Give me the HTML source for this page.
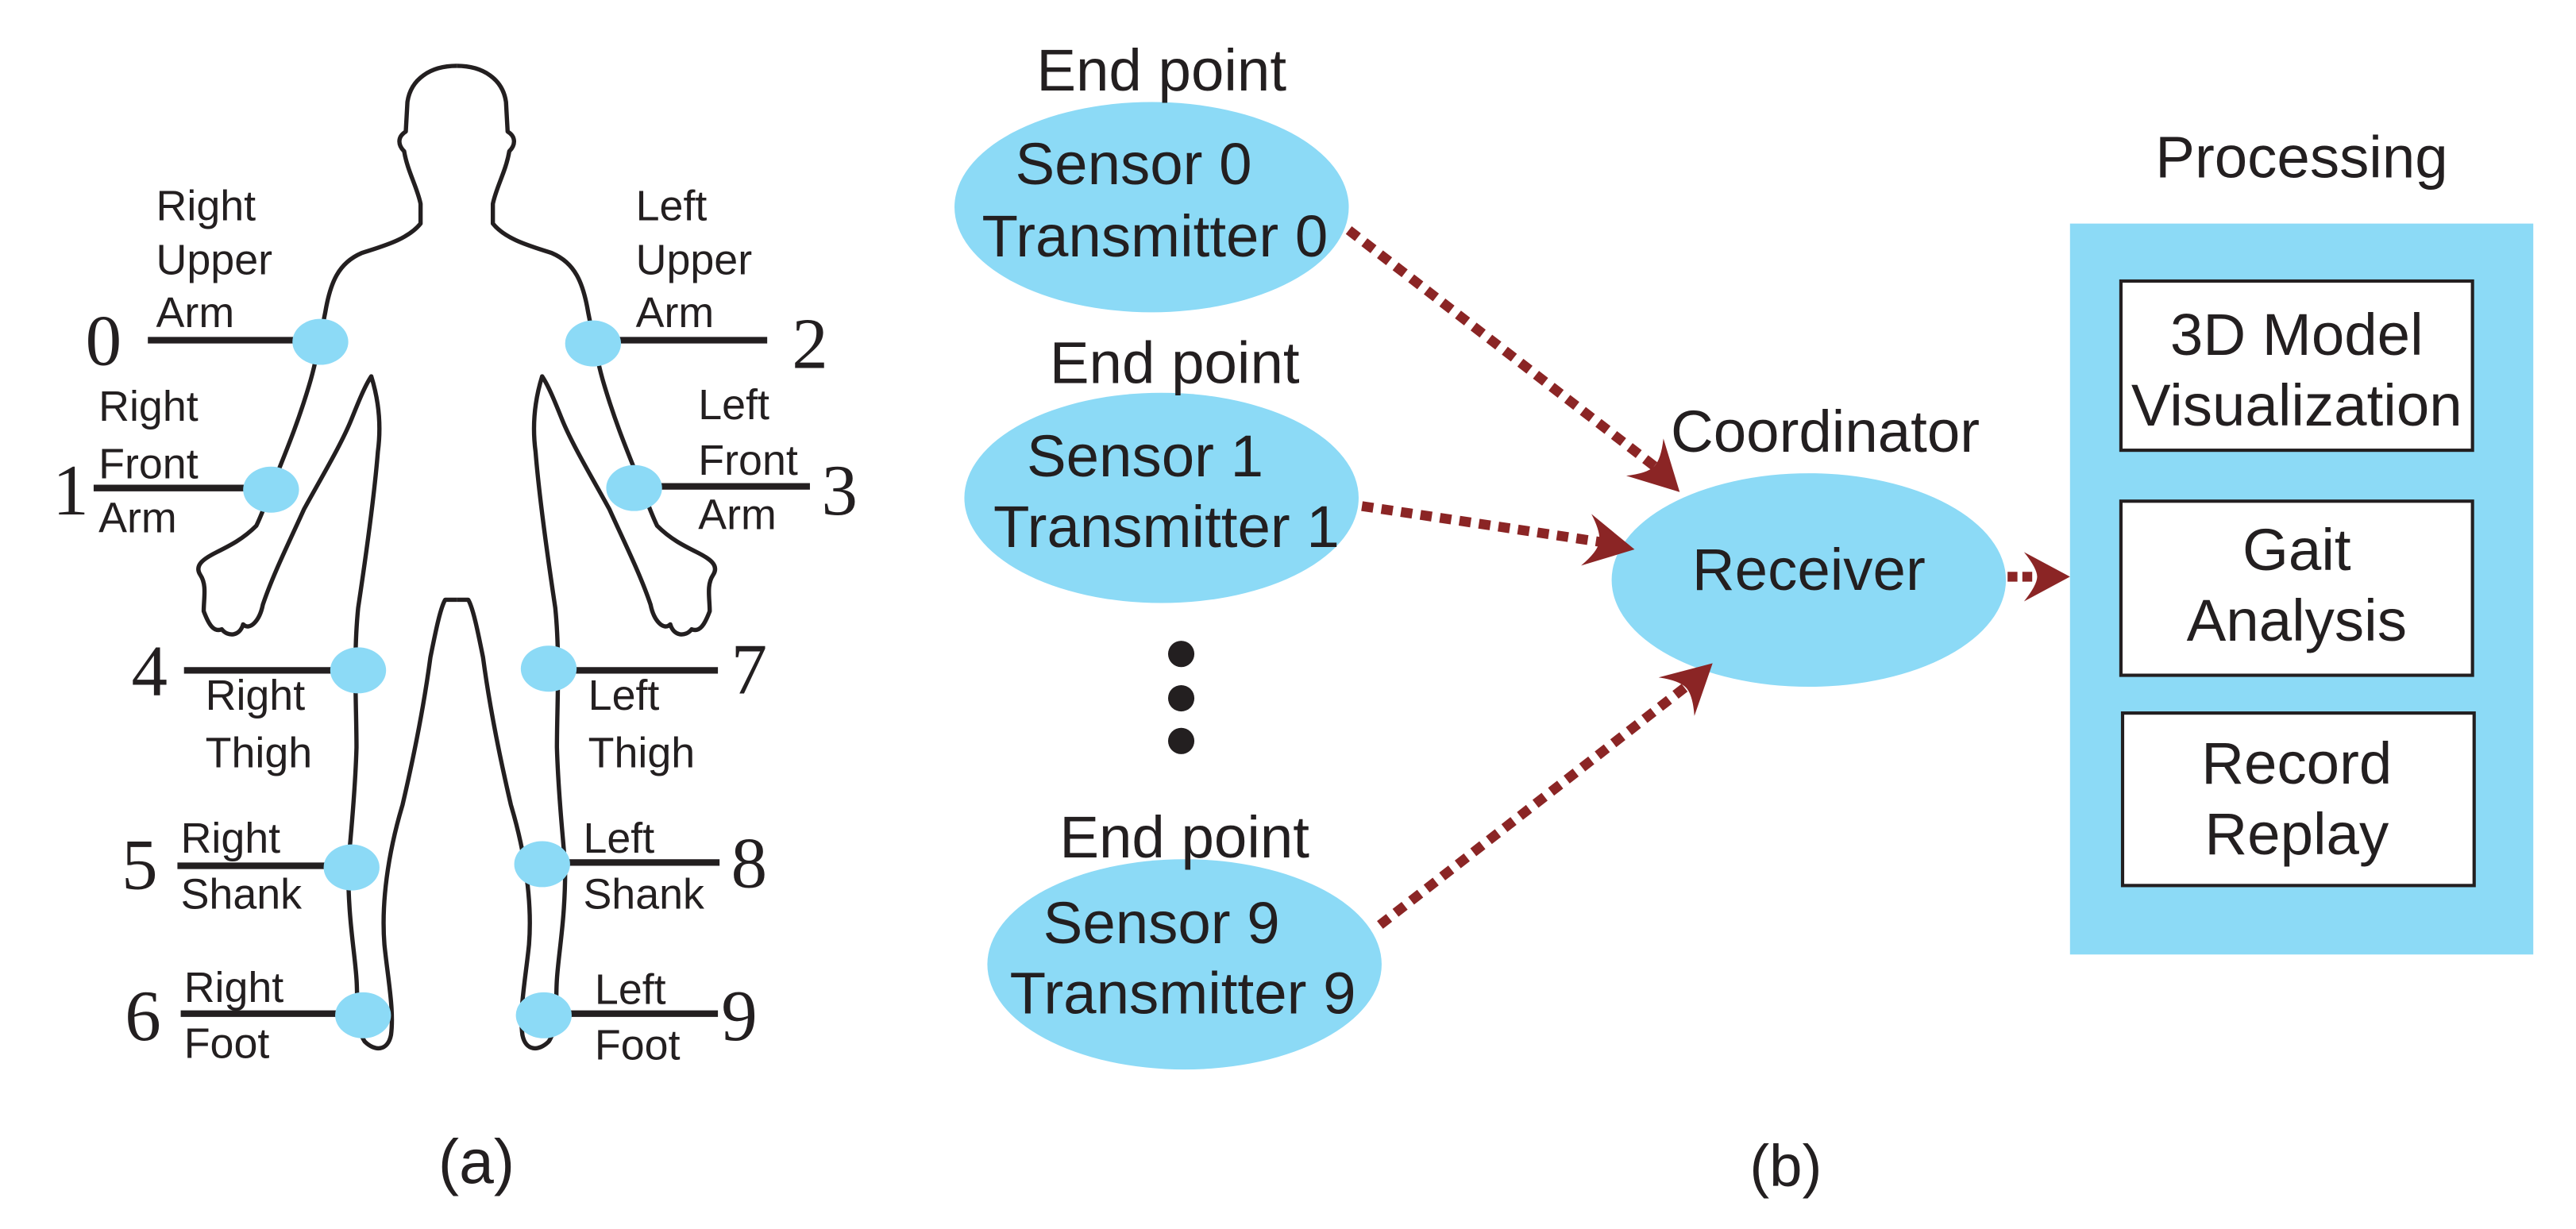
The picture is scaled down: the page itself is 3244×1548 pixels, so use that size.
<!DOCTYPE html>
<html><head><meta charset="utf-8"><style>
html,body{margin:0;padding:0;background:#fff}
svg{display:block}
text{font-family:"Liberation Sans",Arial,sans-serif;fill:#231f20}
.n text{font-family:"Liberation Serif",serif;font-size:44px}
.l text{font-size:26px}
.r text{font-size:36px;text-anchor:middle}
</style></head><body>
<svg width="3244" height="1548" viewBox="0 0 1568 748" xmlns="http://www.w3.org/2000/svg">
<defs>
<marker id="ah" markerUnits="userSpaceOnUse" markerWidth="40" markerHeight="40" viewBox="-30 -20 34 40" refX="0" refY="0" orient="auto">
<path d="M2,0 L-28,-16 Q-20,-6 -20,0 Q-20,6 -28,16 Z" fill="#8b2525"/>
</marker>
</defs>
<g fill="none" stroke="#231f20" stroke-width="2.6" stroke-linejoin="round">
<path id="half" d="M278,40 C262,40 250,48 248,62 L247,80 C242,83 242,88 246,92 C248,104 254,114 256,124 L256,136 C248,146 232,150 220,154 C206,160 201,172 198,190 C194,210 192,222 188,235 C182,255 176,270 170,285 C164,300 160,312 156,320 C148,328 140,332 132,336 C124,340 118,344 122,350 C126,356 124,364 124,372 C127,380 130,385 135,383 C139,388 146,387 148,380 C152,384 158,378 160,368 C166,350 176,330 185,310 C196,290 208,270 214,255 C218,245 222,235 226,229 C231,245 232,260 230,275 C228,300 224,330 218,370 C215,400 217,430 217,455 C216,490 212,520 212,530 C212,560 216,580 217,596 C218,610 216,625 222,634 C228,640 236,640 238,630 C240,615 236,595 234,575 C232,550 236,520 245,490 C252,460 258,430 262,400 C265,385 268,370 271,365 L278,365"/>
<use href="#half" transform="translate(556,0) scale(-1,1)"/>
</g>
<g stroke="#231f20" stroke-width="4">
<line x1="90" y1="207" x2="190" y2="207"/>
<line x1="365" y1="207" x2="467" y2="207"/>
<line x1="57" y1="297" x2="165" y2="297"/>
<line x1="390" y1="296" x2="493" y2="296"/>
<line x1="112" y1="408" x2="218" y2="408"/>
<line x1="330" y1="408" x2="437" y2="408"/>
<line x1="108" y1="527" x2="214" y2="527"/>
<line x1="330" y1="525" x2="438" y2="525"/>
<line x1="110" y1="617" x2="221" y2="617"/>
<line x1="330" y1="617" x2="437" y2="617"/>
</g>
<g fill="#8cdaf6">
<ellipse cx="195" cy="208" rx="17" ry="14"/>
<ellipse cx="361" cy="209" rx="17" ry="14"/>
<ellipse cx="165" cy="298" rx="17" ry="14"/>
<ellipse cx="386" cy="297" rx="17" ry="14"/>
<ellipse cx="218" cy="408" rx="17" ry="14"/>
<ellipse cx="334" cy="407" rx="17" ry="14"/>
<ellipse cx="214" cy="528" rx="17" ry="14"/>
<ellipse cx="330" cy="526" rx="17" ry="14"/>
<ellipse cx="221" cy="618" rx="17" ry="14"/>
<ellipse cx="331" cy="618" rx="17" ry="14"/>
</g>
<g class="n">
<text x="52" y="222">0</text><text x="482" y="224">2</text>
<text x="32" y="313">1</text><text x="500" y="313">3</text>
<text x="80" y="423">4</text><text x="445" y="422">7</text>
<text x="74" y="541">5</text><text x="445" y="540">8</text>
<text x="76" y="633">6</text><text x="439" y="633">9</text>
</g>
<g class="l">
<text x="95" y="134">Right</text><text x="95" y="167">Upper</text><text x="95" y="199">Arm</text>
<text x="387" y="134">Left</text><text x="387" y="167">Upper</text><text x="387" y="199">Arm</text>
<text x="60" y="256">Right</text><text x="60" y="291">Front</text><text x="60" y="324">Arm</text>
<text x="425" y="255">Left</text><text x="425" y="289">Front</text><text x="425" y="322">Arm</text>
<text x="125" y="432">Right</text><text x="125" y="467">Thigh</text>
<text x="358" y="432">Left</text><text x="358" y="467">Thigh</text>
<text x="110" y="519">Right</text><text x="110" y="553">Shank</text>
<text x="355" y="519">Left</text><text x="355" y="553">Shank</text>
<text x="112" y="610">Right</text><text x="112" y="644">Foot</text>
<text x="362" y="611">Left</text><text x="362" y="645">Foot</text>
</g>
<text x="290" y="720" style="font-size:38px;text-anchor:middle">(a)</text>

<g fill="#8cdaf6">
<ellipse cx="701" cy="126" rx="120" ry="64"/>
<ellipse cx="707" cy="303" rx="120" ry="64"/>
<ellipse cx="721" cy="587" rx="120" ry="64"/>
<ellipse cx="1101" cy="353" rx="120" ry="65"/>
<rect x="1260" y="136" width="282" height="445"/>
</g>
<g fill="#fff" stroke="#231f20" stroke-width="2">
<rect x="1291" y="171" width="214" height="103"/>
<rect x="1291" y="305" width="214" height="106"/>
<rect x="1292" y="434" width="214" height="105"/>
</g>
<g class="r">
<text x="707" y="55">End point</text>
<text x="690" y="112">Sensor 0</text>
<text x="703" y="156">Transmitter 0</text>
<text x="715" y="233">End point</text>
<text x="697" y="290">Sensor 1</text>
<text x="710" y="333">Transmitter 1</text>
<text x="721" y="522">End point</text>
<text x="707" y="574">Sensor 9</text>
<text x="720" y="617">Transmitter 9</text>
<text x="1111" y="275">Coordinator</text>
<text x="1101" y="359">Receiver</text>
<text x="1401" y="108">Processing</text>
<text x="1398" y="216">3D Model</text>
<text x="1398" y="259">Visualization</text>
<text x="1398" y="347">Gait</text>
<text x="1398" y="390">Analysis</text>
<text x="1398" y="477">Record</text>
<text x="1398" y="520">Replay</text>
<text x="1087" y="722">(b)</text>
</g>
<g fill="#231f20">
<circle cx="719" cy="398" r="8"/><circle cx="719" cy="425" r="8"/><circle cx="719" cy="451" r="8"/>
</g>
<g stroke="#8b2525" stroke-width="6" stroke-dasharray="7 5" fill="none">
<line x1="821" y1="140" x2="1010" y2="286"/>
<line x1="829" y1="308" x2="982" y2="331"/>
<line x1="840" y1="563" x2="1030" y2="415"/>
</g>
<g stroke="none">
<line x1="1005" y1="282" x2="1021" y2="298" stroke="rgba(0,0,0,0)" stroke-width="1" marker-end="url(#ah)"/>
<line x1="978" y1="331" x2="993" y2="334" stroke="rgba(0,0,0,0)" stroke-width="1" marker-end="url(#ah)"/>
<line x1="1027" y1="418" x2="1041" y2="405" stroke="rgba(0,0,0,0)" stroke-width="1" marker-end="url(#ah)"/>
</g>
<line x1="1222" y1="351" x2="1240" y2="351" stroke="#8b2525" stroke-width="6" stroke-dasharray="6 3"/>
<path d="M1260,351 L1232,336 Q1240,346 1240,351 Q1240,356 1232,366 Z" fill="#8b2525"/>
</svg>
</body></html>
